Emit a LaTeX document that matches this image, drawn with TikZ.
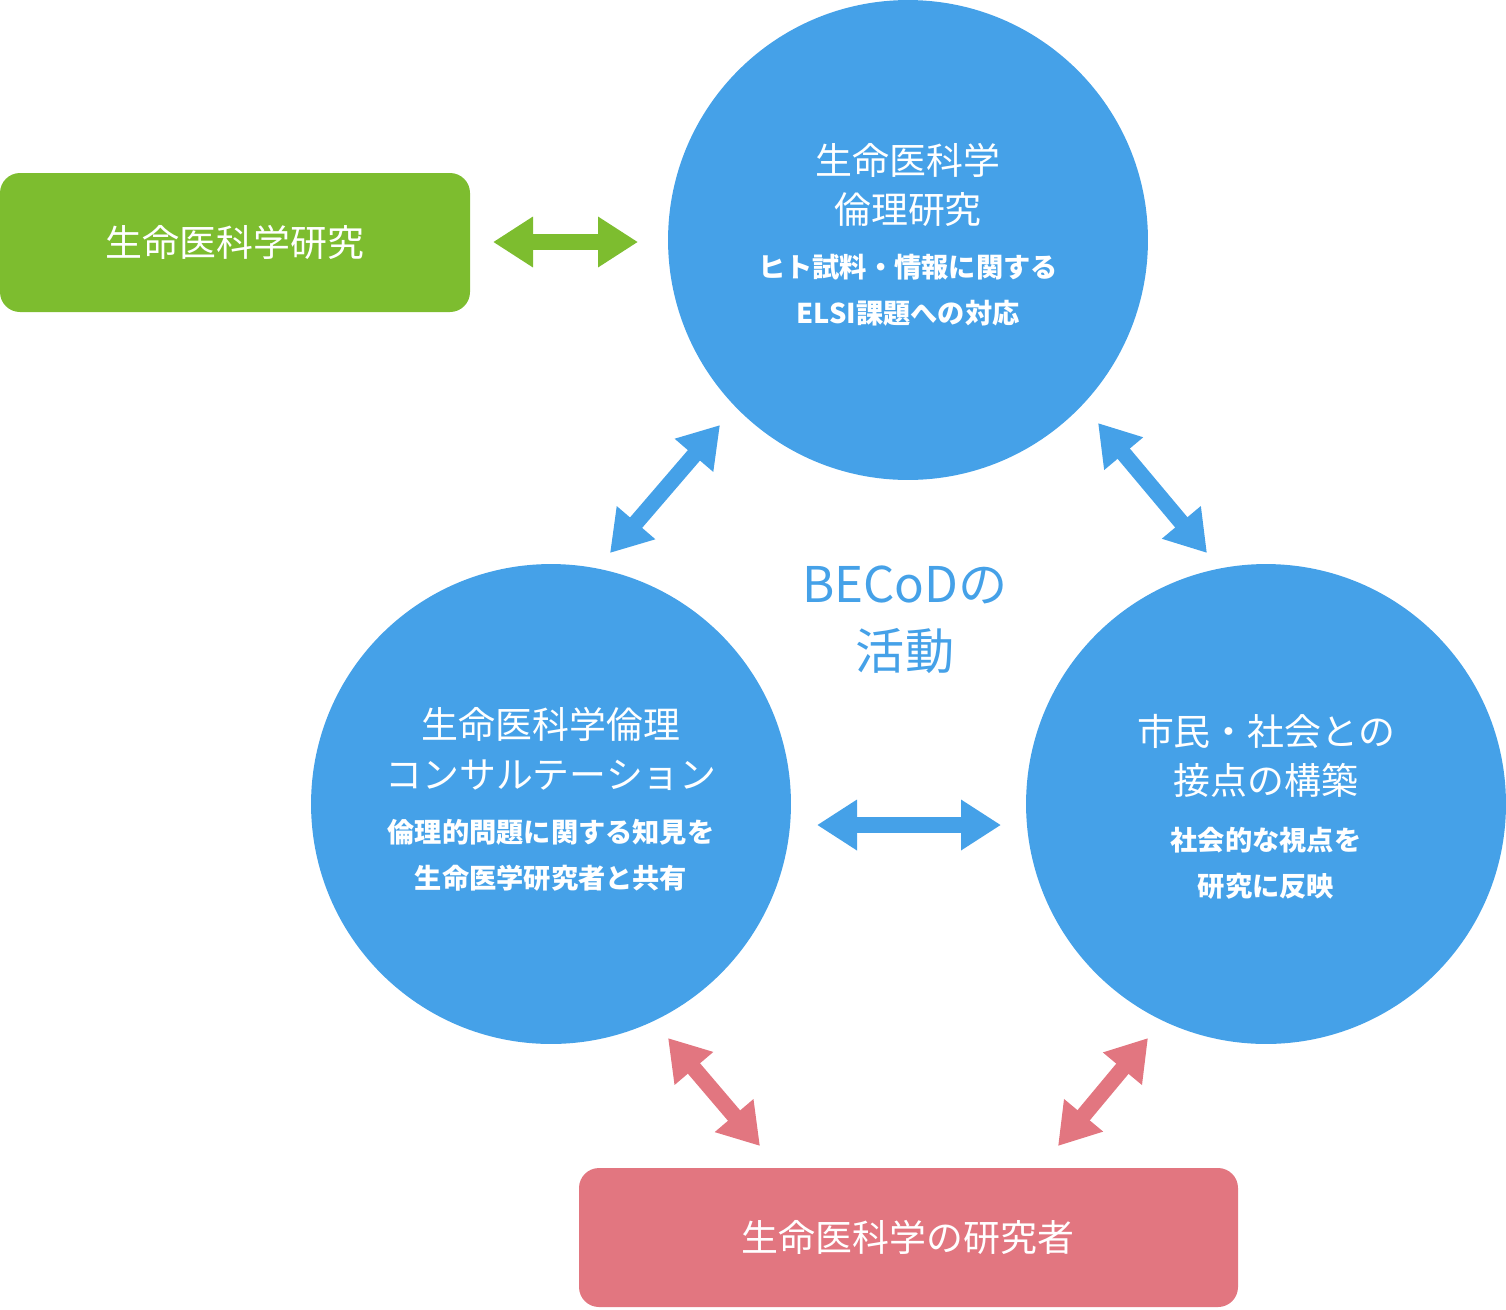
\documentclass[tikz,border=0pt]{standalone}
\usepackage{fontspec}
\setmainfont{Noto Sans CJK JP}
\usetikzlibrary{arrows.meta}
\definecolor{cb}{HTML}{45A1E8}
\definecolor{cg}{HTML}{7DBD2F}
\definecolor{cp}{HTML}{E27680}
\begin{document}
\begin{tikzpicture}[x=0.02cm,y=-0.02cm,
  circ/.style={circle,fill=cb,minimum size=9.6cm,inner sep=0pt,text=white,align=center},
  box/.style={rounded corners=0.4cm,text=white,font=\fontsize{21}{26}\selectfont,inner sep=0pt},
  big/.style={font=\fontsize{21}{28}\selectfont},
  small/.style={font=\fontsize{15.5}{26}\selectfont\bfseries},
  dar/.style={line width=0.32cm,{Triangle[width=0.96cm,length=0.8cm]}-{Triangle[width=0.96cm,length=0.8cm]}}]
\useasboundingbox (0,0) rectangle (1506,1309);
\node[circ] (t) at (908,240) {};
\node[circ] (l) at (551,804) {};
\node[circ] (r) at (1266,804) {};
\node[big,text=white,align=center] at (908,185) {生命医科学\\倫理研究};
\node[small,text=white,align=center] at (908,290) {ヒト試料・情報に関する\\ELSI課題への対応};
\node[big,text=white,align=center] at (551,749) {生命医科学倫理\\コンサルテーション};
\node[small,text=white,align=center] at (551,855) {倫理的問題に関する知見を\\生命医学研究者と共有};
\node[big,text=white,align=center] at (1266,756) {市民・社会との\\接点の構築};
\node[small,text=white,align=center] at (1266,863) {社会的な視点を\\研究に反映};
\fill[cg,rounded corners=0.4cm] (0,173) rectangle (470,312);
\node[box] (g) at (235,242) {生命医科学研究};
\fill[cp,rounded corners=0.4cm] (579,1168) rectangle (1238,1307);
\node[box] (p) at (908,1237) {生命医科学の研究者};
\node[text=cb,align=center,font=\fontsize{28}{38}\selectfont] (becod) at (905,620) {BECoDの\\活動};
\coordinate (a1) at (493,242); \coordinate (a2) at (638,242);
\coordinate (b1) at (720,425); \coordinate (b2) at (610,553);
\coordinate (c1) at (1098,423); \coordinate (c2) at (1207,553);
\coordinate (d1) at (817,825); \coordinate (d2) at (1001,825);
\coordinate (e1) at (668,1038); \coordinate (e2) at (760,1146);
\coordinate (f1) at (1148,1038); \coordinate (f2) at (1058,1146);
\draw[dar,cg] (a1)--(a2);
\draw[dar,cb] (b1)--(b2);
\draw[dar,cb] (c1)--(c2);
\draw[dar,cb] (d1)--(d2);
\draw[dar,cp] (e1)--(e2);
\draw[dar,cp] (f1)--(f2);
\end{tikzpicture}
\end{document}
